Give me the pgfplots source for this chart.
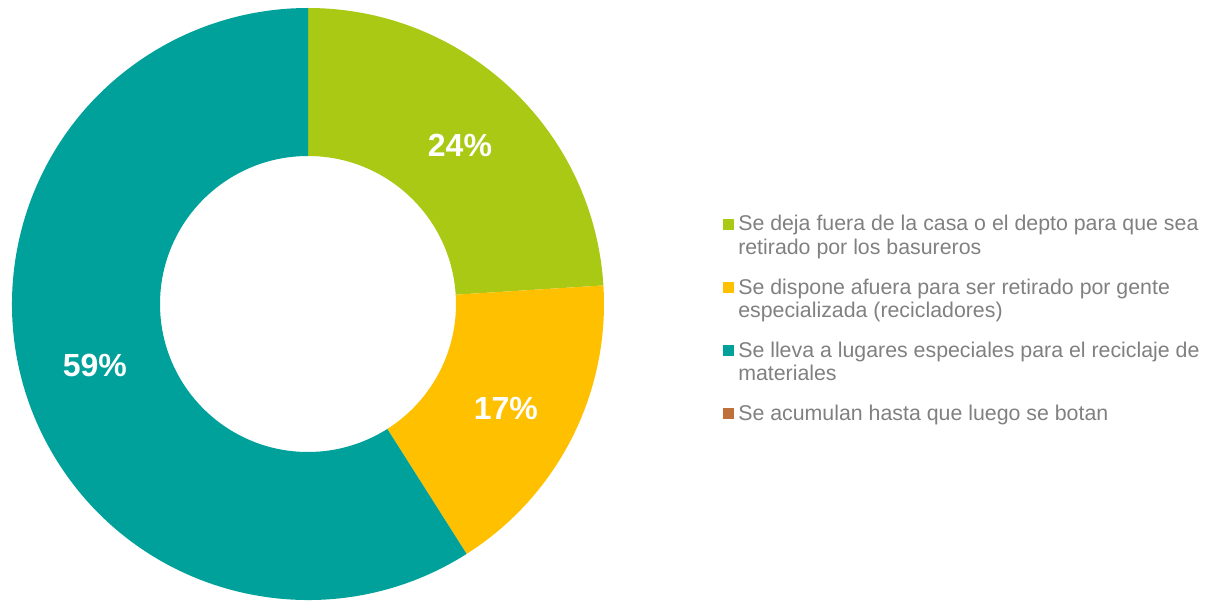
\documentclass[border=0pt]{standalone}
\usepackage{pgfplots}
\pgfplotsset{compat=1.18}
\usepackage{fontspec}
\setmainfont{Liberation Sans}
\definecolor{cgreen}{HTML}{A9C914}
\definecolor{cyellow}{HTML}{FFC000}
\definecolor{cteal}{HTML}{00A19A}
\definecolor{cbrown}{HTML}{C0703A}
\definecolor{ctext}{HTML}{808080}
\begin{document}
\begin{tikzpicture}
\path[use as bounding box] (0,0) rectangle (903.75pt,450pt);
% data (percent)
\def\vA{24}\def\vB{17}\def\vC{59}\def\vD{0}
\pgfmathsetmacro\aA{90}
\pgfmathsetmacro\aB{90-\vA*3.6}
\pgfmathsetmacro\aC{\aB-\vB*3.6}
\pgfmathsetmacro\aD{\aC-\vC*3.6}
\pgfmathsetmacro\mA{(\aA+\aB)/2}
\pgfmathsetmacro\mB{(\aB+\aC)/2}
\pgfmathsetmacro\mC{(\aC+\aD)/2}
\def\R{222pt}\def\r{111pt}\def\rm{166.5pt}
\begin{axis}[at={(0,0)},anchor=south west,scale only axis,
  width=903.75pt,height=450pt,xmin=0,xmax=1205,ymin=0,ymax=600,
  hide axis,clip=false]
\fill[cgreen,shift={(axis cs:308,296)}] (\aA:\R) arc[start angle=\aA,end angle=\aB,radius=\R] -- (\aB:\r) arc[start angle=\aB,end angle=\aA,radius=\r] -- cycle;
\fill[cyellow,shift={(axis cs:308,296)}] (\aB:\R) arc[start angle=\aB,end angle=\aC,radius=\R] -- (\aC:\r) arc[start angle=\aC,end angle=\aB,radius=\r] -- cycle;
\fill[cteal,shift={(axis cs:308,296)}] (\aC:\R) arc[start angle=\aC,end angle=\aD,radius=\R] -- (\aD:\r) arc[start angle=\aD,end angle=\aC,radius=\r] -- cycle;
\begin{scope}[shift={(axis cs:308,296)}]
\node[text=white,font=\fontsize{24}{28}\selectfont\bfseries,yshift=-2.5pt] at (\mA:\rm) {24\%};
\node[text=white,font=\fontsize{24}{28}\selectfont\bfseries,yshift=-2.5pt] at (\mB:\rm) {17\%};
\node[text=white,font=\fontsize{24}{28}\selectfont\bfseries] at (\mC:\rm) {59\%};
\end{scope}
% legend
\fill[cgreen] (axis cs:723,370) rectangle (axis cs:734,381);
\fill[cyellow] (axis cs:723,306.7) rectangle (axis cs:734,317.7);
\fill[cteal] (axis cs:723,244) rectangle (axis cs:734,255);
\fill[cbrown] (axis cs:723,181) rectangle (axis cs:734,192);
\begin{scope}[every node/.style={anchor=base west,inner sep=0pt,text=ctext,font=\fontsize{16}{19}\selectfont}]
\node at (axis cs:738,369) {Se deja fuera de la casa o el depto para que sea};
\node at (axis cs:738,345.5) {retirado por los basureros};
\node at (axis cs:738,305.7) {Se dispone afuera para ser retirado por gente};
\node at (axis cs:738,283) {especializada (recicladores)};
\node at (axis cs:738,243) {Se lleva a lugares especiales para el reciclaje de};
\node at (axis cs:738,220) {materiales};
\node at (axis cs:738,180) {Se acumulan hasta que luego se botan};
\end{scope}
\end{axis}
\end{tikzpicture}
\end{document}
